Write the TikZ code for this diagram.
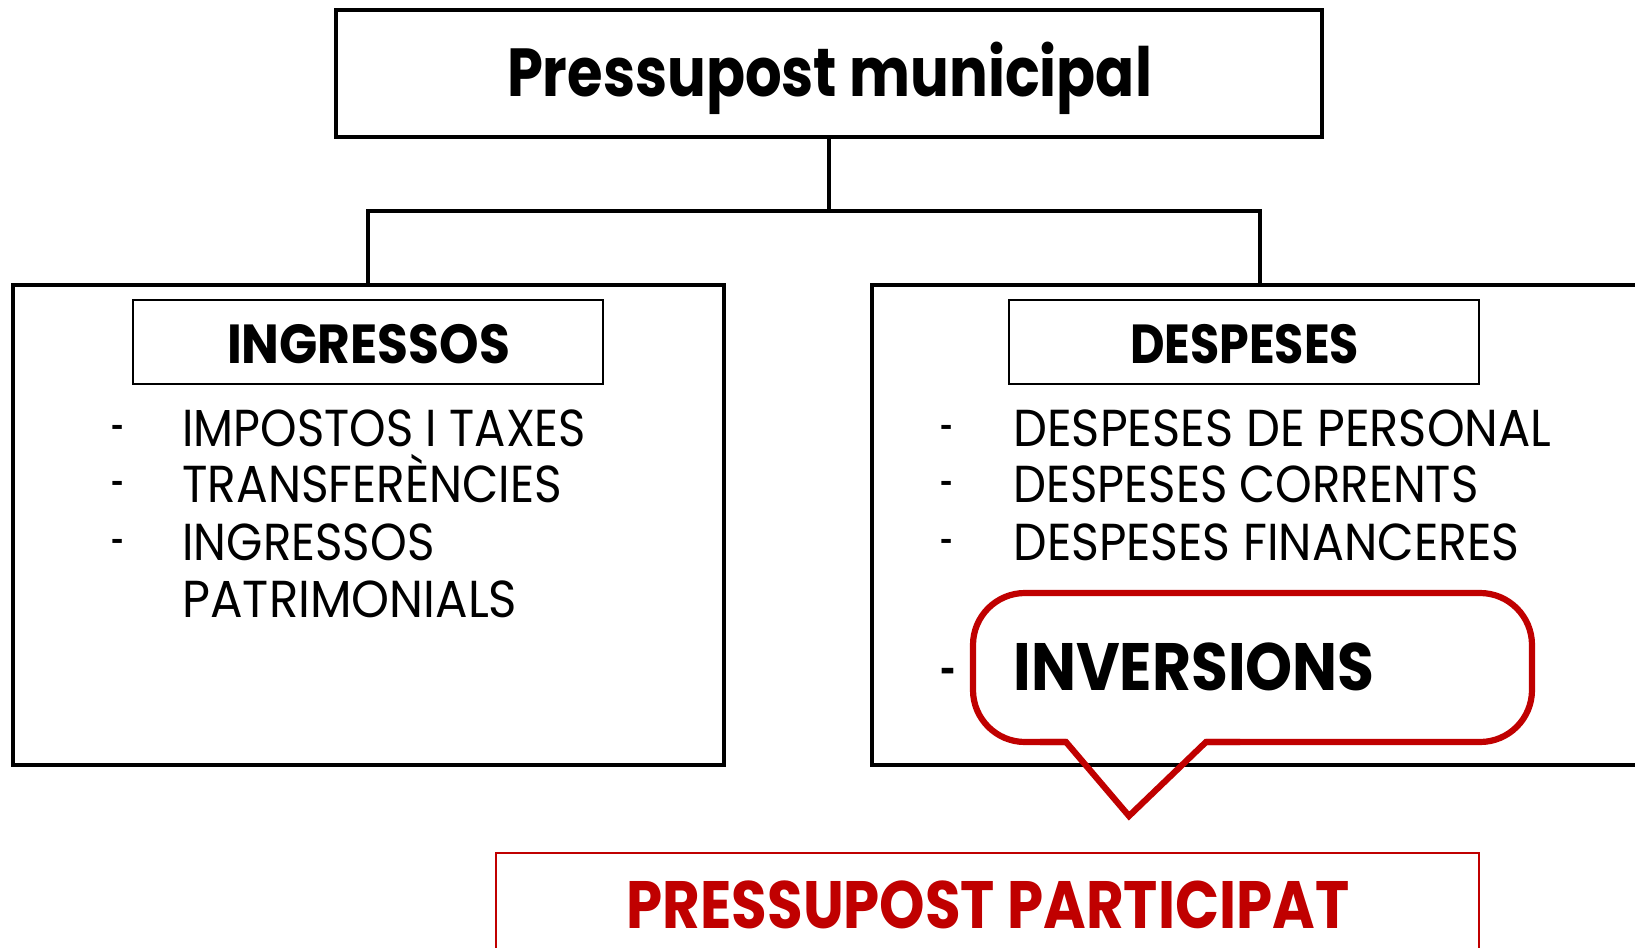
\documentclass[tikz,border=0pt]{standalone}
\usepackage{fontspec}
\setmainfont{Poppins}
\usetikzlibrary{fit}
\definecolor{redc}{HTML}{C00000}
\newcommand{\fw}[2]{\resizebox{#1}{\height}{#2}}
\begin{document}
\begin{tikzpicture}[x=0.5pt,y=-0.5pt,
  bigbox/.style={draw, line width=2pt, inner sep=0pt},
  hdrbox/.style={draw, line width=0.75pt, inner sep=0pt},
  conn/.style={line width=2pt},
  txt/.style={inner sep=0pt, outer sep=0pt},
  titlef/.style={font=\fontsize{34pt}{34pt}\selectfont\bfseries},
  hdrf/.style={font=\fontsize{27.5pt}{27.5pt}\selectfont\bfseries},
  listf/.style={font=\fontsize{26pt}{26pt}\selectfont},
  bigf/.style={font=\fontsize{33.5pt}{33.5pt}\selectfont\bfseries}]
\useasboundingbox (0,0) rectangle (1635,948);
\clip (0,0) rectangle (1635,948);
\fill[white] (0,0) rectangle (1635,948);
% boxes
\node[bigbox, fit={(336,10)(1322,137)}] (top) {};
\node[bigbox, fit={(12.5,285)(724,765)}] (left) {};
\node[bigbox, fit={(872,285)(1660,765)}] (right) {};
\node[hdrbox, fit={(133,300)(603,384)}] (inghdr) {};
\node[hdrbox, fit={(1009,300)(1479,384)}] (desphdr) {};
\node[draw=redc, line width=0.8pt, inner sep=0pt, fit={(496,853)(1479,990)}] (pp) {};
% connectors
\coordinate (mid) at (829,211);
\draw[conn] (top.south) -- (mid);
\draw[conn] (left.north) -- (left.north |- mid) -- (1260,211) coordinate (rj) -- (rj |- right.north);
% titles
\node[txt, titlef, anchor=base] (ttl) at (829.5,96) {\fw{322.5pt}{Pressupost municipal}};
\node[txt, hdrf, anchor=base] (ingt) at (368.5,363) {\fw{141.5pt}{INGRESSOS}};
\node[txt, hdrf, anchor=base] (despt) at (1244.5,363) {\fw{114.5pt}{DESPESES}};
% left list
\node[txt, listf, anchor=base west] (ld1) at (111,446) {\fw{6.5pt}{-}};
\node[txt, listf, anchor=base west] (ld2) at (111,502.6) {\fw{6.5pt}{-}};
\node[txt, listf, anchor=base west] (ld3) at (111,560) {\fw{6.5pt}{-}};
\node[txt, listf, anchor=base west] (l1) at (182.5,446) {\fw{201.75pt}{IMPOSTOS I TAXES}};
\node[txt, listf, anchor=base west] (l2) at (182.5,502.6) {\fw{189.75pt}{TRANSFERÈNCIES}};
\node[txt, listf, anchor=base west] (l3) at (182.5,560) {\fw{126pt}{INGRESSOS}};
\node[txt, listf, anchor=base west] (l4) at (182.5,617.3) {\fw{167.4pt}{PATRIMONIALS}};
% right list
\node[txt, listf, anchor=base west] (rd1) at (940,446) {\fw{6.5pt}{-}};
\node[txt, listf, anchor=base west] (rd2) at (940,502.6) {\fw{6.5pt}{-}};
\node[txt, listf, anchor=base west] (rd3) at (940,560) {\fw{6.5pt}{-}};
\node[txt, listf, anchor=base west] (r1) at (1013.5,446) {\fw{269pt}{DESPESES DE PERSONAL}};
\node[txt, listf, anchor=base west] (r2) at (1013.5,502.6) {\fw{232.5pt}{DESPESES CORRENTS}};
\node[txt, listf, anchor=base west] (r3) at (1013.5,560) {\fw{252.9pt}{DESPESES FINANCERES}};
% callout
\draw[redc, line width=3.1pt, line join=miter, rounded corners=26pt]
  (1066,742) -- (973,742) -- (973,593) -- (1532,593) -- (1532,742) -- (1206,742);
\draw[redc, line width=3.1pt, line join=miter]
  (1040,742) -- (1066,742) -- (1129,816) -- (1206,742) -- (1240,742);
\node[txt, font=\fontsize{36pt}{36pt}\selectfont, anchor=base west] (rd4) at (940,697) {\fw{8pt}{-}};
\node[txt, bigf, anchor=base west] (inv) at (1013.5,690) {\fw{180.5pt}{INVERSIONS}};
% bottom
\node[txt, bigf, text=redc, anchor=base] (ppt) at (988,928) {\fw{361.3pt}{PRESSUPOST PARTICIPAT}};
\end{tikzpicture}
\end{document}
